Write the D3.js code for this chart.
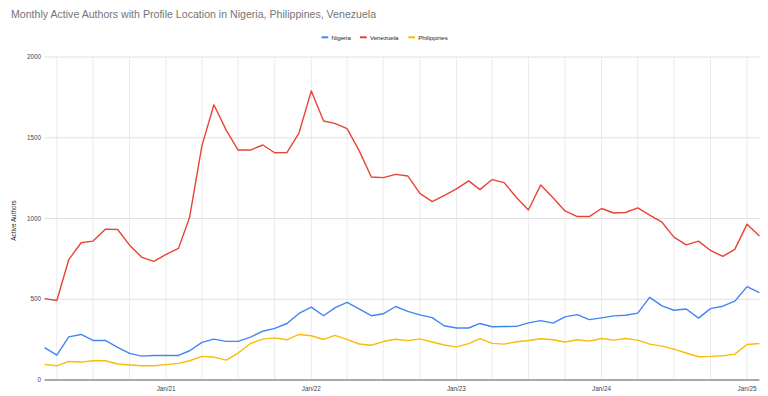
<!DOCTYPE html>
<html>
<head>
<meta charset="utf-8">
<script src="https://cdn.jsdelivr.net/npm/d3@7"></script>
<style>
  body { margin: 0; background: #fff; }
  text { font-family: "Liberation Sans", Arial, sans-serif; }
</style>
</head>
<body>
<div id="chart"></div>
<script>
// months from Mar 2020 to Feb 2025
var startMonth = new Date(2020, 2, 1);
var months = d3.timeMonth.range(startMonth, new Date(2025, 2, 1));

var seriesNames = ["Nigeria", "Venezuela", "Philippines"];
var seriesColors = ["#4285F4", "#EA4335", "#FBBC04"];

var nigeria = [200, 154, 267, 282, 245, 245, 202, 165, 148, 152, 152, 152,
  181, 233, 253, 239, 239, 266, 302, 320, 350, 412, 451, 398,
  447, 481, 440, 398, 410, 455, 425, 403, 386, 336, 322, 322,
  350, 330, 331, 332, 354, 368, 352, 391, 405, 374, 385, 397,
  401, 414, 512, 459, 432, 440, 383, 442, 457, 488, 578, 541];

var venezuela = [504, 492, 745, 850, 860, 934, 932, 835, 759, 735, 778, 815,
  1008, 1451, 1704, 1547, 1424, 1424, 1455, 1407, 1409, 1529, 1790, 1604,
  1589, 1556, 1422, 1257, 1253, 1273, 1263, 1156, 1105, 1142, 1183, 1233,
  1179, 1241, 1222, 1130, 1053, 1208, 1128, 1047, 1012, 1012, 1062, 1034,
  1037, 1066, 1021, 977, 885, 837, 860, 802, 765, 809, 965, 891];

var philippines = [97, 88, 115, 111, 119, 119, 99, 93, 88, 88, 95, 103,
  119, 146, 142, 123, 167, 226, 253, 261, 249, 282, 274, 251,
  276, 252, 223, 215, 238, 252, 244, 255, 235, 217, 205, 225,
  256, 227, 222, 237, 245, 255, 249, 235, 249, 241, 257, 247,
  257, 247, 222, 210, 191, 167, 144, 146, 150, 160, 220, 226];

var yTicks = [0, 500, 1000, 1500, 2000];
var xLabelYears = [2021, 2022, 2023, 2024, 2025];

var width = 768;
var height = 396;
var margin = { top: 57, right: 8.6, bottom: 16, left: 44.5 };

var svg = d3.select("#chart")
  .append("svg")
  .attr("width", width)
  .attr("height", height);

var x = d3.scaleTime()
  .domain([months[0], months[months.length - 1]])
  .range([margin.left, width - margin.right]);

var y = d3.scaleLinear()
  .domain([0, 2000])
  .range([height - margin.bottom, margin.top]);

// title
svg.append("text")
  .attr("x", 11)
  .attr("y", 18)
  .attr("fill", "#757575")
  .attr("font-size", "10.6px")
  .text("Monthly Active Authors with Profile Location in Nigeria, Philippines, Venezuela");

// vertical grid, every quarter
var quarters = d3.timeMonth.every(3).range(new Date(2020, 3, 1), new Date(2025, 1, 2));
svg.append("g")
  .selectAll("line")
  .data(quarters)
  .enter()
  .append("line")
  .attr("x1", function (d) { return x(d); })
  .attr("x2", function (d) { return x(d); })
  .attr("y1", y(2000))
  .attr("y2", y(0))
  .attr("stroke", "#ebebeb")
  .attr("stroke-width", 1);

// horizontal grid
svg.append("g")
  .selectAll("line")
  .data(yTicks.slice(1))
  .enter()
  .append("line")
  .attr("x1", margin.left)
  .attr("x2", width - margin.right)
  .attr("y1", function (d) { return y(d); })
  .attr("y2", function (d) { return y(d); })
  .attr("stroke", "#e0e0e0")
  .attr("stroke-width", 1);

// y tick labels
svg.append("g")
  .selectAll("text")
  .data(yTicks)
  .enter()
  .append("text")
  .attr("x", 41)
  .attr("y", function (d) { return y(d) + 2.2; })
  .attr("text-anchor", "end")
  .attr("font-size", "6.3px")
  .attr("fill", "#444")
  .text(function (d) { return d; });

// y axis title
svg.append("text")
  .attr("transform", "translate(16," + ((y(0) + y(2000)) / 2 + 2) + ") rotate(-90)")
  .attr("text-anchor", "middle")
  .attr("font-size", "6.3px")
  .attr("fill", "#222")
  .text("Active Authors");

// x labels
var fmt = d3.timeFormat("%b/%y");
svg.append("g")
  .selectAll("text")
  .data(xLabelYears.map(function (yr) { return new Date(yr, 0, 1); }))
  .enter()
  .append("text")
  .attr("x", function (d) { return x(d); })
  .attr("y", 391)
  .attr("text-anchor", "middle")
  .attr("font-size", "6.3px")
  .attr("fill", "#444")
  .text(function (d) { return fmt(d); });

// lines
var line = d3.line()
  .x(function (d, i) { return x(months[i]); })
  .y(function (d) { return y(d); });

var allSeries = [nigeria, venezuela, philippines];
svg.append("g")
  .selectAll("path")
  .data(allSeries)
  .enter()
  .append("path")
  .attr("d", function (d) { return line(d); })
  .attr("fill", "none")
  .attr("stroke", function (d, i) { return seriesColors[i]; })
  .attr("stroke-width", 1.4)
  .attr("stroke-linejoin", "round");

// baseline
svg.append("line")
  .attr("x1", margin.left)
  .attr("x2", width - margin.right)
  .attr("y1", y(0))
  .attr("y2", y(0))
  .attr("stroke", "#555")
  .attr("stroke-width", 1);

// legend
var legendX = [321.5, 360, 408.3];
var legend = svg.append("g")
  .selectAll("g")
  .data(seriesNames)
  .enter()
  .append("g")
  .attr("transform", function (d, i) { return "translate(" + legendX[i] + ",37.3)"; });

legend.append("line")
  .attr("x1", 0)
  .attr("x2", 6.7)
  .attr("stroke", function (d, i) { return seriesColors[i]; })
  .attr("stroke-width", 2);

legend.append("text")
  .attr("x", 10)
  .attr("y", 2.2)
  .attr("font-size", "6.1px")
  .attr("fill", "#222")
  .text(function (d) { return d; });
</script>
</body>
</html>
